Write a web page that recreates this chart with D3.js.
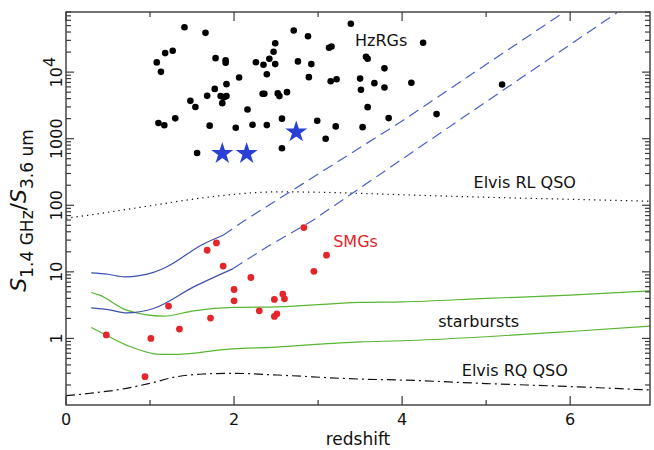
<!DOCTYPE html>
<html>
<head>
<meta charset="utf-8">
<script src="https://cdn.jsdelivr.net/npm/d3@7"></script>
<style>
  body { margin: 0; background: #fff; }
  text { font-family: "DejaVu Sans", sans-serif; fill: #111; }
</style>
</head>
<body>
<svg id="chart" width="654" height="450"></svg>
<script>
// [redshift, S1.4GHz / S3.6um]
const hzrgs = [
  [1.41, 47200], [1.66, 38900], [1.18, 19300], [1.27, 20900], [1.08, 14000],
  [1.13, 10100], [1.78, 16200], [1.90, 15000], [1.90, 13800], [2.06, 8300],
  [1.91, 6600], [1.77, 5600], [1.68, 4400], [1.48, 3700], [1.54, 3000],
  [1.84, 4360], [1.88, 4210], [1.91, 4360], [1.86, 3420], [2.16, 2750],
  [1.10, 1720], [1.17, 1590], [1.30, 2020], [1.71, 1570], [2.02, 1460],
  [2.22, 1620], [2.39, 1600], [2.57, 2000], [1.56, 610], [2.57, 720],
  [2.71, 42200], [2.88, 34600], [2.49, 27200], [2.47, 20200], [2.42, 15900],
  [2.26, 14100], [2.35, 12900], [2.49, 13200], [2.39, 9300], [2.76, 14500],
  [2.92, 13200], [2.89, 8400], [2.34, 4740], [2.36, 4740], [2.52, 4790],
  [2.54, 4360], [2.63, 5000], [2.99, 1860], [3.21, 1530], [3.09, 1000],
  [3.39, 53200], [3.13, 23200], [3.16, 24300], [3.57, 17000], [3.59, 15900],
  [3.79, 11400], [3.15, 7300], [3.22, 7800], [3.50, 8000], [3.51, 5440],
  [3.67, 6830], [3.79, 5890], [4.11, 6930], [3.59, 2980], [3.84, 2040],
  [3.53, 1490], [4.25, 27600], [4.41, 2340], [5.19, 6530]
];

const hzrgStars = [[1.86, 596], [2.15, 596], [2.74, 1260]];

const smgs = [
  [0.48, 1.13], [0.94, 0.266], [1.01, 1.0], [1.22, 3.06], [1.35, 1.38],
  [1.68, 21.1], [1.79, 27.2], [1.87, 12.2], [1.72, 2.02], [2.00, 5.43],
  [2.00, 3.67], [2.20, 8.22], [2.30, 2.60], [2.48, 3.85], [2.48, 2.14],
  [2.51, 2.34], [2.58, 4.63], [2.60, 3.94], [2.83, 46.2], [2.95, 10.2],
  [3.10, 17.8]
];

// model tracks; the blue ones turn dashed beyond their last solid redshift
const agnUpper = [[0.3, 9.65], [0.5, 9.2], [0.7, 8.4], [1.04, 9.8], [1.2, 11.9],
  [1.63, 26], [1.87, 35.5], [2.13, 59.6], [3.98, 1776], [5.92, 78500]];
const agnLower = [[0.3, 2.88], [0.5, 2.71], [0.72, 2.42], [1.04, 2.82], [1.52, 5.95],
  [1.99, 11.2], [2.39, 23.7], [2.94, 59.6], [4.21, 750], [6.56, 78500]];
const agnSolidTo = [1.87, 1.99];

const sbUpper = [[0.3, 4.9], [0.4, 4.47], [0.72, 2.66], [1.16, 2.16], [1.52, 2.6],
  [2, 2.92], [2.51, 2.98], [3.5, 3.47], [4, 3.54], [5, 3.99], [6, 4.47], [6.95, 5.18]];
const sbLower = [[0.3, 1.46], [0.4, 1.26], [0.72, 0.794], [1.12, 0.576], [1.32, 0.576],
  [1.91, 0.685], [2.5, 0.741], [3.5, 0.89], [4, 0.922], [5, 1.06], [6, 1.27], [6.95, 1.53]];

const rlQso = [[0, 63.8], [0.5, 78.5], [1, 98.3], [1.5, 123], [2, 146], [2.5, 159],
  [3, 157], [3.5, 151], [4, 144], [5, 132], [6, 123], [6.95, 115]];
const rqQso = [[0, 0.138], [0.29, 0.15], [0.72, 0.178], [1, 0.212], [1.32, 0.266],
  [1.63, 0.292], [2, 0.299], [2.51, 0.282], [3.5, 0.245], [4, 0.237], [5, 0.21],
  [6, 0.189], [6.95, 0.168]];

const labelNames = ["HzRGs", "Elvis RL QSO", "SMGs", "starbursts", "Elvis RQ QSO"];
const labelAt = [[3.44, 29800], [4.85, 221], [3.18, 28.8], [4.43, 1.82], [4.71, 0.335]];

const xTicks = [0, 1, 2, 3, 4, 5, 6];
const yLabelTicks = [1, 10, 100, 1000, 1e4];

const blue = "#3d50ae", green = "#5ab534", red = "#e4262b", starBlue = "#2a40d4";

const svg = d3.select("#chart");
const x = d3.scaleLinear().domain([0, 6.95]).range([66, 650]);
const y = d3.scaleLog().domain([0.1, 8e4]).range([405, 12]);
const [x0, x1] = x.range();
const [yb, yt] = y.range();

svg.append("clipPath").attr("id", "plot")
  .append("rect").attr("x", x0).attr("y", yt).attr("width", x1 - x0).attr("height", yb - yt);

const lineGen = d3.line().x(d => x(d[0])).y(d => y(d[1]));
const smooth = d3.line().x(d => x(d[0])).y(d => y(d[1])).curve(d3.curveMonotoneX);

const g = svg.append("g").attr("clip-path", "url(#plot)");

const drawTrack = (data, color, dash, curve) => {
  g.append("path").datum(data)
    .attr("d", curve ? smooth : lineGen)
    .attr("fill", "none").attr("stroke", color).attr("stroke-width", 1.2)
    .attr("stroke-dasharray", dash);
};

drawTrack(rlQso, "#111", "1.3,4", true);
drawTrack(rqQso, "#111", "9,4,2,4", true);
drawTrack(sbUpper, green, null, true);
drawTrack(sbLower, green, null, true);

[agnUpper, agnLower].forEach((track, i) => {
  const solid = track.filter(d => d[0] <= agnSolidTo[i]);
  const dashed = track.filter(d => d[0] >= agnSolidTo[i]);
  drawTrack(solid, blue, null, true);
  drawTrack(dashed, "#4a60c6", "11,6", false);
});

// points
g.selectAll("circle.hzrg").data(hzrgs).enter().append("circle")
  .attr("class", "hzrg")
  .attr("cx", d => x(d[0])).attr("cy", d => y(d[1])).attr("r", 3.3)
  .attr("fill", "#000");

g.selectAll("circle.smg").data(smgs).enter().append("circle")
  .attr("class", "smg")
  .attr("cx", d => x(d[0])).attr("cy", d => y(d[1])).attr("r", 3.4)
  .attr("fill", red);

const star = d3.symbol().type(d3.symbolStar).size(150);
g.selectAll("path.star").data(hzrgStars).enter().append("path")
  .attr("class", "star")
  .attr("transform", d => `translate(${x(d[0])},${y(d[1])})`)
  .attr("d", star)
  .attr("fill", starBlue);

// labels
svg.selectAll("text.lab").data(labelNames).enter().append("text")
  .attr("class", "lab")
  .attr("x", (d, i) => x(labelAt[i][0]))
  .attr("y", (d, i) => y(labelAt[i][1]))
  .attr("dy", "0.35em")
  .attr("font-size", 16)
  .style("fill", d => d === "SMGs" ? red : "#111")
  .text(d => d);

// frame and ticks
const axisColor = "#3a3a3a";
svg.append("rect")
  .attr("x", x0).attr("y", yt).attr("width", x1 - x0).attr("height", yb - yt)
  .attr("fill", "none").attr("stroke", axisColor).attr("stroke-width", 1.4);

const ticks = svg.append("g").attr("stroke", axisColor).attr("stroke-width", 1.2);

const isDecade = v => Math.abs(Math.log10(v) - Math.round(Math.log10(v))) < 1e-6;
const yMinor = y.ticks().filter(v => v > 0.1);
yMinor.forEach(v => {
  const len = isDecade(v) ? 8 : 5;
  ticks.append("line").attr("x1", x0).attr("x2", x0 + len).attr("y1", y(v)).attr("y2", y(v));
  ticks.append("line").attr("x1", x1).attr("x2", x1 - len).attr("y1", y(v)).attr("y2", y(v));
});

xTicks.forEach(v => {
  const len = v % 2 === 0 ? 9 : 5;
  ticks.append("line").attr("x1", x(v)).attr("x2", x(v)).attr("y1", yb).attr("y2", yb - len);
  ticks.append("line").attr("x1", x(v)).attr("x2", x(v)).attr("y1", yt).attr("y2", yt + len);
});

svg.selectAll("text.xt").data(xTicks.filter(v => v % 2 === 0)).enter().append("text")
  .attr("class", "xt")
  .attr("x", d => x(d)).attr("y", yb + 20)
  .attr("text-anchor", "middle").attr("font-size", 16)
  .text(d => d);

yLabelTicks.forEach(v => {
  const t = svg.append("text")
    .attr("transform", `translate(${x0 - 4},${y(v)}) rotate(-90)`)
    .attr("text-anchor", "middle").attr("font-size", 16);
  if (v >= 1e4) {
    t.append("tspan").text("10");
    t.append("tspan").attr("dy", -7).text(Math.round(Math.log10(v)));
  } else {
    t.text(d3.format("d")(v));
  }
});

svg.append("text")
  .attr("x", (x0 + x1) / 2).attr("y", 445)
  .attr("text-anchor", "middle").attr("font-size", 17)
  .text("redshift");

const title = svg.append("text")
  .attr("transform", `translate(26,${(yb + yt) / 2 + 2}) rotate(-90)`)
  .attr("text-anchor", "middle");
title.append("tspan").attr("font-size", 22).attr("font-style", "italic").text("S");
title.append("tspan").attr("font-size", 17).attr("dy", 7).text("1.4 GHz");
title.append("tspan").attr("font-size", 22).attr("dy", -7).text("/");
title.append("tspan").attr("font-size", 22).attr("font-style", "italic").text("S");
title.append("tspan").attr("font-size", 17).attr("dy", 7).text("3.6 um");
</script>
</body>
</html>
